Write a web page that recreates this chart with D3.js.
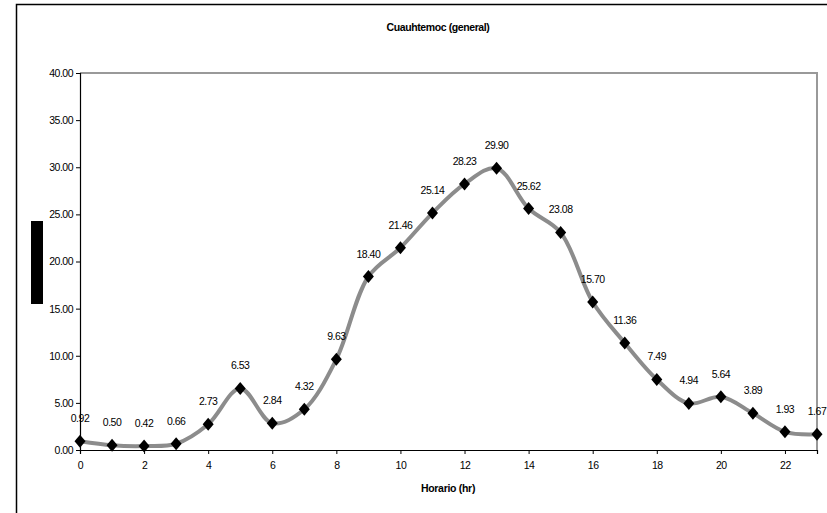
<!DOCTYPE html>
<html>
<head>
<meta charset="utf-8">
<script src="https://cdn.jsdelivr.net/npm/d3@7"></script>
<style>
  body { margin: 0; background: #fff; }
  text { font-family: "Liberation Sans", Arial, sans-serif; fill: #000; }
</style>
</head>
<body>
<div id="chart"></div>
<script>
    // chart data
    var hours = d3.range(0, 24);
    var values = [0.92, 0.50, 0.42, 0.66, 2.73, 6.53, 2.84, 4.32, 9.63, 18.40, 21.46, 25.14,
        28.23, 29.90, 25.62, 23.08, 15.70, 11.36, 7.49, 4.94, 5.64, 3.89, 1.93, 1.67];
    var xTicks = [0, 2, 4, 6, 8, 10, 12, 14, 16, 18, 20, 22];
    var yTicks = [0, 5, 10, 15, 20, 25, 30, 35, 40];
    var title = "Cuauhtemoc (general)";
    var xTitle = "Horario (hr)";

    var width = 827, height = 513;
    var svg = d3.select("#chart").append("svg")
        .attr("width", width)
        .attr("height", height);

    // outer chart border
    svg.append("rect")
        .attr("x", 16.5).attr("y", 4.5)
        .attr("width", 830).attr("height", 530)
        .attr("fill", "none").attr("stroke", "#000").attr("stroke-width", 1.5);

    var x = d3.scaleLinear().domain([0, 23]).range([80, 817]);
    var y = d3.scaleLinear().domain([0, 40]).range([450, 73]);

    // plot area top/right border (gray)
    svg.append("path")
        .attr("d", "M" + x(0) + "," + y(40) + "H" + x(23) + "V" + y(0))
        .attr("fill", "none").attr("stroke", "#999").attr("stroke-width", 2);

    var fmt = d3.format(".2f");

    var xAxis = svg.append("g")
        .attr("transform", "translate(0," + y(0) + ")")
        .call(d3.axisBottom(x).tickValues(xTicks).tickSize(4).tickPadding(8).tickFormat(d3.format("d")));
    var yAxis = svg.append("g")
        .attr("transform", "translate(" + x(0) + ",0)")
        .call(d3.axisLeft(y).tickValues(yTicks).tickSize(4).tickPadding(3).tickFormat(fmt));

    [xAxis, yAxis].forEach(function(g) {
        g.select(".domain").attr("stroke", "#000").attr("stroke-width", 1.2);
        g.selectAll(".tick line").attr("stroke", "#000");
        g.selectAll(".tick text")
            .style("font-family", '"Liberation Sans", Arial, sans-serif')
            .style("font-size", "10.5px")
            .style("letter-spacing", "-0.5px")
            .attr("fill", "#000");
    });

    // line
    var line = d3.line()
        .x(function(d, i) { return x(hours[i]); })
        .y(function(d) { return y(d); })
        .curve(d3.curveCatmullRom.alpha(0.5));

    svg.append("path")
        .datum(values)
        .attr("d", line)
        .attr("fill", "none")
        .attr("stroke", "#8c8c8c")
        .attr("stroke-width", 4);

    // diamond markers
    svg.selectAll(".mark")
        .data(values)
        .enter().append("path")
        .attr("class", "mark")
        .attr("transform", function(d, i) { return "translate(" + x(hours[i]) + "," + y(d) + ")"; })
        .attr("d", "M0,-6.5L5.5,0L0,6.5L-5.5,0Z")
        .attr("fill", "#000");

    // data labels
    svg.selectAll(".lbl")
        .data(values)
        .enter().append("text")
        .attr("class", "lbl")
        .attr("x", function(d, i) { return x(hours[i]); })
        .attr("y", function(d) { return y(d) - 19; })
        .attr("text-anchor", "middle")
        .style("font-size", "10.5px")
        .style("letter-spacing", "-0.5px")
        .text(function(d) { return fmt(d); });

    // titles
    svg.append("text")
        .attr("x", 438).attr("y", 31)
        .attr("text-anchor", "middle")
        .style("font-size", "10.5px").style("font-weight", "bold")
        .style("letter-spacing", "-0.4px")
        .text(title);

    svg.append("text")
        .attr("x", 448).attr("y", 492)
        .attr("text-anchor", "middle")
        .style("font-size", "10.5px").style("font-weight", "bold")
        .style("letter-spacing", "-0.3px")
        .text(xTitle);

    // y-axis title block (drawn as a solid bar in the source)
    svg.append("rect")
        .attr("x", 31).attr("y", 221)
        .attr("width", 12).attr("height", 83)
        .attr("fill", "#000");
</script>
</body>
</html>
